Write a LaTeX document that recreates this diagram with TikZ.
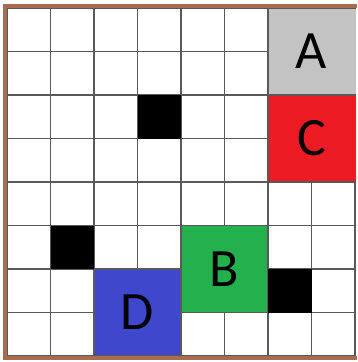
\documentclass[tikz,border=0pt]{standalone}
\usepackage{fontspec}
\setmainfont{Carlito}
\definecolor{cellgray}{RGB}{195,195,195}
\definecolor{cellred}{RGB}{237,28,36}
\definecolor{cellgreen}{RGB}{34,177,76}
\definecolor{cellblue}{RGB}{63,72,204}
\definecolor{framebrown}{RGB}{168,108,78}
\tikzset{
  gridline/.style={draw=black!65, line width=1.3pt},
  block/.style={draw=none},
  letter/.style={font=\fontsize{54}{54}\selectfont, text=black, inner sep=0pt},
  frameline/.style={draw=framebrown, line width=4pt}
}
\begin{document}
\begin{tikzpicture}[x=1pt,y=-1pt]
\useasboundingbox (0,0) rectangle (357,362);
\fill[white] (0,0) rectangle (357,362);
% grid
\foreach \i in {0,...,8}{
  \draw[gridline] ({7+43.5*\i},8) -- ({7+43.5*\i},356);
  \draw[gridline] (7,{8+43.5*\i}) -- (355,{8+43.5*\i});
}
% black cells
\fill[black] ({7+43.5*3},{8+43.5*2}) rectangle ({7+43.5*4},{8+43.5*3});
\fill[black] ({7+43.5*1},{8+43.5*5}) rectangle ({7+43.5*2},{8+43.5*6});
\fill[black] ({7+43.5*6},{8+43.5*6}) rectangle ({7+43.5*7},{8+43.5*7});
% coloured blocks (inset to keep outer grid lines)
\fill[cellgray]  ({7+43.5*6+0.6},{8+0.6}) rectangle ({7+43.5*8+1},{8+43.5*2-0.6});
\fill[cellred]   ({7+43.5*6+0.6},{8+43.5*2+0.6}) rectangle ({7+43.5*8+1},{8+43.5*4-0.6});
\fill[cellgreen] ({7+43.5*4+0.6},{8+43.5*5+0.6}) rectangle ({7+43.5*6-0.6},{8+43.5*7-0.6});
\fill[cellblue]  ({7+43.5*2+0.6},{8+43.5*6+0.6}) rectangle ({7+43.5*4-0.6},{8+43.5*8-0.6});
% letters
\node[letter] (A) at ({7+43.5*7},{8+43.5*1}) {A};
\node[letter] (C) at ({7+43.5*7},{8+43.5*3}) {C};
\node[letter] (B) at ({7+43.5*5},{8+43.5*6}) {B};
\node[letter] (D) at ({7+43.5*3},{8+43.5*7}) {D};
% frame
\draw[frameline] (5,360) -- (5,6) -- (357,6);
\draw[frameline] (3,358) -- (357,358);
\end{tikzpicture}
\end{document}
